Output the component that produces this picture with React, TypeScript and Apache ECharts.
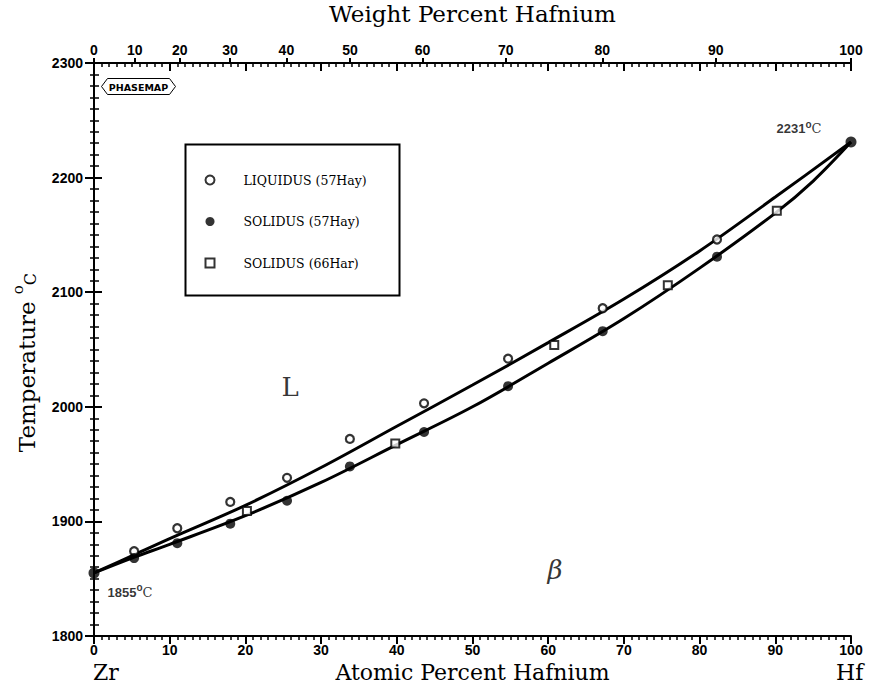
import React, { useEffect, useRef } from "react";
import * as echarts from "echarts";

// ---- data (atomic % Hf, temperature °C) ----
const weightPercentTicks = [0, 10, 20, 30, 40, 50, 60, 70, 80, 90, 100];
const zrAtomicMass = 91.224;
const hfAtomicMass = 178.49;

const liquidus57Hay = [
  [5.3, 1874], [11.0, 1894], [18.0, 1917], [25.5, 1938], [33.8, 1972],
  [43.6, 2003], [54.7, 2042], [67.2, 2086], [82.3, 2146],
];
const solidus57Hay = [
  [5.3, 1868], [11.0, 1881], [18.0, 1898], [25.5, 1918], [33.8, 1948],
  [43.6, 1978], [54.7, 2018], [67.2, 2066], [82.3, 2131],
];
const solidus66Har = [
  [20.2, 1909], [39.8, 1968], [60.8, 2054], [75.8, 2106], [90.2, 2171],
];
const meltingPoints = [[0, 1855], [100, 2231]];

const liquidusCurve = [
  [0, 1855], [5, 1870], [10, 1885], [20, 1914], [30, 1947], [40, 1983],
  [50, 2019], [60, 2056], [70, 2094], [80, 2136], [90, 2183], [100, 2231],
];
const solidusCurve = [
  [0, 1855], [5, 1868], [10, 1880], [20, 1905], [30, 1934], [40, 1967],
  [50, 2000], [60, 2038], [70, 2077], [80, 2121], [90, 2169], [95, 2197], [100, 2231],
];
const phaseLabels = [
  { name: "L", value: [25.9, 2017] },
  { name: "β", value: [60.9, 1858] },
];
const legendNames = ["LIQUIDUS (57Hay)", "SOLIDUS (57Hay)", "SOLIDUS (66Har)"];

const SERIF = "'DejaVu Serif', 'Liberation Serif', serif";
const TICKFONT = "'Liberation Sans', 'DejaVu Sans', sans-serif";

function weightToAtomic(w: number): number {
  if (w <= 0) return 0;
  if (w >= 100) return 100;
  const hf = w / hfAtomicMass;
  const zr = (100 - w) / zrAtomicMass;
  return (hf / (hf + zr)) * 100;
}

export default function App() {
  const ref = useRef<HTMLDivElement>(null);
  useEffect(() => {
    if (!ref.current) return;
    const chart = echarts.init(ref.current, null, { renderer: "svg" });
    const topPositions = weightPercentTicks.map(weightToAtomic);
    const tickLabel = {
      fontFamily: TICKFONT, fontWeight: "bold", fontSize: 14, color: "#000",
      formatter: (v: number) => String(v),
    };
    const axisLine = { show: true, lineStyle: { color: "#000", width: 2 } };
    const supRich = {
      n: { fontFamily: TICKFONT, fontWeight: "bold", fontSize: 13, color: "#000", lineHeight: 16, verticalAlign: "bottom" },
      s: { fontFamily: TICKFONT, fontWeight: "bold", fontSize: 10, color: "#000", lineHeight: 16, verticalAlign: "top", padding: [0, 0, 6, 0] },
      c: { fontFamily: SERIF, fontSize: 13, color: "#000", lineHeight: 16, verticalAlign: "bottom" },
    };
    const option: any = {
      animation: false,
      backgroundColor: "#fff",
      grid: { left: 94, right: 25, top: 63, bottom: 48, containLabel: false, outerBoundsMode: "none" },
      legend: {
        data: [
          { name: legendNames[0] },
          { name: legendNames[1] },
          { name: legendNames[2], icon: "path://M0,0H10V10H0Z" },
        ],
        orient: "vertical",
        left: 204.5,
        top: 173,
        padding: 0,
        itemWidth: 9,
        itemHeight: 9,
        itemGap: 27.5,
        selectedMode: false,
        formatter: (name: string) => `{g|}{t|${name}}`,
        textStyle: {
          fontFamily: SERIF, fontSize: 12.5, color: "#000", lineHeight: 14,
          rich: {
            g: { width: 24, lineHeight: 14 },
            t: { fontFamily: SERIF, fontSize: 12.5, color: "#000", lineHeight: 14 },
          },
        },
      },
      xAxis: [
        {
          type: "value", position: "bottom", min: 0, max: 100, interval: 10,
          name: "Atomic Percent Hafnium", nameLocation: "middle", nameGap: 15,
          nameTextStyle: { fontFamily: SERIF, fontSize: 22, color: "#000", verticalAlign: "top" },
          axisLine, splitLine: { show: false },
          axisTick: { show: true, length: 8, lineStyle: { color: "#000", width: 2 } },
          minorTick: { show: true, splitNumber: 10, length: 4, lineStyle: { color: "#000", width: 1.5 } },
          axisLabel: { ...tickLabel, margin: 7 },
        },
        {
          type: "value", position: "top", min: 0, max: 100, interval: 10,
          axisLine, splitLine: { show: false },
          axisTick: { show: true, inside: true, length: 8, lineStyle: { color: "#000", width: 2 } },
          minorTick: { show: true, splitNumber: 10, length: 4, lineStyle: { color: "#000", width: 1.5 } },
          axisLabel: { show: false },
        },
        {
          type: "value", position: "top", min: 0, max: 100,
          name: "Weight Percent Hafnium", nameLocation: "middle", nameGap: 38,
          nameTextStyle: { fontFamily: SERIF, fontSize: 23, color: "#000" },
          axisLine, splitLine: { show: false },
          axisTick: { show: true, length: 5, customValues: topPositions, lineStyle: { color: "#000", width: 2 } },
          axisLabel: {
            ...tickLabel, margin: 6, customValues: topPositions,
            formatter: (v: number) => {
              let best = 0;
              topPositions.forEach((p, i) => { if (Math.abs(p - v) < Math.abs(topPositions[best] - v)) best = i; });
              return String(weightPercentTicks[best]);
            },
          },
        },
      ],
      yAxis: [
        {
          type: "value", position: "left", min: 1800, max: 2300, interval: 100,
          name: "{t|Temperature }{s|o}{c|C}", nameLocation: "middle", nameGap: 56, nameRotate: 90,
          nameTextStyle: {
            color: "#000",
            padding: [0, 26, 0, 0],
            rich: {
              t: { fontFamily: SERIF, fontSize: 23, color: "#000", lineHeight: 28, verticalAlign: "bottom" },
              s: { fontFamily: SERIF, fontSize: 15, color: "#000", lineHeight: 28, verticalAlign: "top" },
              c: { fontFamily: SERIF, fontSize: 16, color: "#000", lineHeight: 28, verticalAlign: "bottom" },
            },
          },
          axisLine, splitLine: { show: false },
          axisTick: { show: true, length: 9, lineStyle: { color: "#000", width: 2 } },
          minorTick: { show: true, splitNumber: 10, length: 4, lineStyle: { color: "#000", width: 1.5 } },
          axisLabel: { ...tickLabel, margin: 11 },
        },
        {
          type: "value", position: "right", min: 1800, max: 2300, interval: 100,
          axisLine, splitLine: { show: false },
          axisTick: { show: true, length: 8, lineStyle: { color: "#000", width: 2 } },
          minorTick: { show: true, splitNumber: 10, length: 5, lineStyle: { color: "#000", width: 1.5 } },
          axisLabel: { show: false },
        },
      ],
      graphic: [
        {
          type: "rect", left: 183, top: 142, z: 0,
          shape: { width: 214, height: 151 },
          style: { fill: "none", stroke: "#000", lineWidth: 2 },
        },
        {
          type: "group", left: 101, top: 78,
          children: [
            {
              type: "polygon",
              shape: { points: [[0, 8], [6, 0], [68, 0], [74, 8], [68, 16], [6, 16]] },
              style: { fill: "#fff", stroke: "#000", lineWidth: 1 },
            },
            {
              type: "text", x: 37, y: 8.5,
              style: { text: "PHASEMAP", fontFamily: "'DejaVu Sans', sans-serif", fontWeight: "bold", fontSize: 9.5, fill: "#000", align: "center", verticalAlign: "middle" },
            },
          ],
        },
        {
          type: "text", left: 93, top: 661,
          style: { text: "Zr", fontFamily: SERIF, fontSize: 22, fill: "#000" },
        },
        {
          type: "text", left: 836, top: 661,
          style: { text: "Hf", fontFamily: SERIF, fontSize: 22, fill: "#000" },
        },
      ],
      series: [
        {
          name: "liquidus", type: "line", data: liquidusCurve, smooth: 0.35, showSymbol: false,
          lineStyle: { color: "#000", width: 3 }, silent: true, z: 2,
        },
        {
          name: "solidus", type: "line", data: solidusCurve, smooth: 0.35, showSymbol: false,
          lineStyle: { color: "#000", width: 3 }, silent: true, z: 2,
        },
        {
          name: legendNames[0], type: "scatter", data: liquidus57Hay, symbol: "circle", symbolSize: 8,
          itemStyle: { color: "#fff", borderColor: "#000", borderWidth: 2.2 }, z: 4,
        },
        {
          name: legendNames[1], type: "scatter", data: solidus57Hay, symbol: "circle", symbolSize: 10,
          itemStyle: { color: "#000", borderColor: "#000", borderWidth: 0 }, z: 4,
        },
        {
          name: legendNames[2], type: "scatter", data: solidus66Har, symbol: "rect", symbolSize: 8,
          itemStyle: { color: "#fff", borderColor: "#000", borderWidth: 2 }, z: 4,
        },
        {
          name: "melting points", type: "scatter", symbol: "circle", symbolSize: 11,
          itemStyle: { color: "#000" }, z: 4,
          data: [
            {
              value: meltingPoints[0],
              label: {
                show: true, position: "right", distance: 0, offset: [8, 18],
                formatter: () => `{n|${meltingPoints[0][1]}}{s|o}{c|C}`, rich: supRich,
              },
            },
            {
              value: meltingPoints[1],
              label: {
                show: true, position: "left", distance: 0, offset: [-24, -15],
                formatter: () => `{n|${meltingPoints[1][1]}}{s|o}{c|C}`, rich: supRich,
              },
            },
          ],
        },
        {
          name: "phases", type: "scatter", symbolSize: 1, itemStyle: { color: "rgba(0,0,0,0)" }, silent: true,
          data: phaseLabels.map((d) => ({
            ...d,
            label: d.name === "β" ? { fontStyle: "italic" } : {},
          })),
          label: {
            show: true, position: "inside", formatter: (p: any) => p.name,
            fontFamily: SERIF, fontSize: 26, color: "#000",
          },
        },
      ],
    };
    chart.setOption(option);
    return () => chart.dispose();
  }, []);
  return <div ref={ref} style={{ position: "absolute", left: 0, top: 0, width: 876, height: 684 }} />;
}
